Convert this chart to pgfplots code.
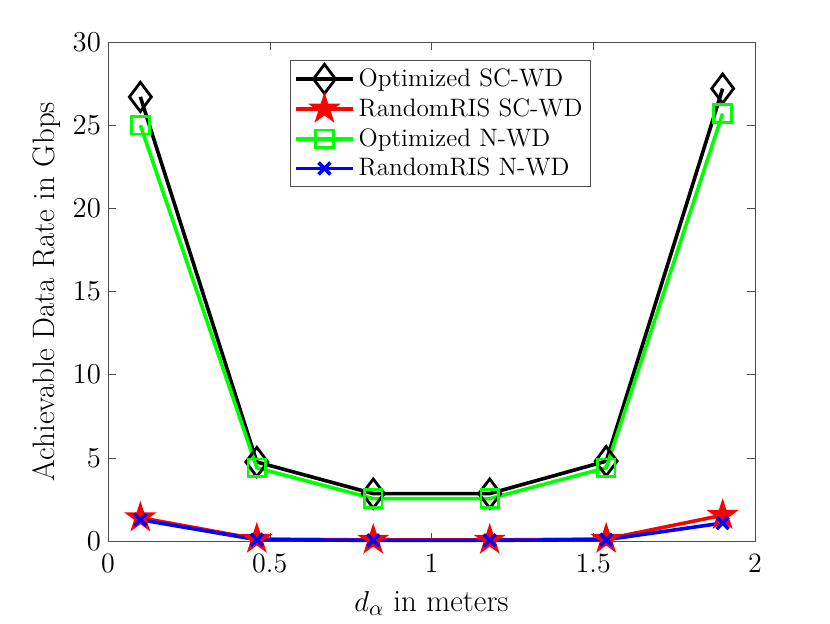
\documentclass[border=0pt]{standalone}
\usepackage{pgfplots}
\pgfplotsset{compat=1.18}
\pgfdeclareplotmark{fstar}{%
  \pgfpathmoveto{\pgfpointpolar{90}{\pgfplotmarksize}}%
  \pgfpathlineto{\pgfpointpolar{126}{0.382\pgfplotmarksize}}%
  \pgfpathlineto{\pgfpointpolar{162}{\pgfplotmarksize}}%
  \pgfpathlineto{\pgfpointpolar{198}{0.382\pgfplotmarksize}}%
  \pgfpathlineto{\pgfpointpolar{234}{\pgfplotmarksize}}%
  \pgfpathlineto{\pgfpointpolar{270}{0.382\pgfplotmarksize}}%
  \pgfpathlineto{\pgfpointpolar{306}{\pgfplotmarksize}}%
  \pgfpathlineto{\pgfpointpolar{342}{0.382\pgfplotmarksize}}%
  \pgfpathlineto{\pgfpointpolar{18}{\pgfplotmarksize}}%
  \pgfpathlineto{\pgfpointpolar{54}{0.382\pgfplotmarksize}}%
  \pgfpathclose
  \pgfusepathqfillstroke
}
\begin{document}
\begin{tikzpicture}
\begin{axis}[
  name=ax,
  scale only axis,
  width=323.5pt, height=249.5pt,
  xmin=0, xmax=2, ymin=0, ymax=30,
  xtick={0,0.5,1,1.5,2},
  ytick={0,5,10,15,20,25,30},
  xticklabels={0,0.5,1,1.5,2},
  tick align=inside,
  axis line style={line width=0.4pt, color=black!70},
  tick style={color=black!70},
  major tick length=4pt,
  ticklabel style={font=\fontsize{14}{16}\selectfont},
  xticklabel style={yshift=-3pt},
  label style={font=\fontsize{15.5}{18}\selectfont},
  xlabel={$d_\alpha$ in meters},
  ylabel={Achievable Data Rate in Gbps},
  xlabel style={yshift=-2pt},
  ylabel style={yshift=-1pt},
  legend cell align=left,
  legend style={at={(0.281,0.964)}, anchor=north west,
    font=\fontsize{12.6}{15}\selectfont, draw=black!70, line width=0.4pt,
    inner sep=2pt, row sep=0.5pt},
  legend image code/.code={%
    \draw[#1, mark repeat=2, mark phase=2] plot coordinates {(0cm,0cm) (0.5cm,0cm) (1cm,0cm)};},
  clip=false,
]
\addplot[black, line width=1.8pt, mark=diamond, mark size=7.3pt, mark options={solid, line width=1.4pt}]
  coordinates {(0.1,26.7) (0.46,4.75) (0.82,2.85) (1.18,2.85) (1.54,4.8) (1.9,27.2)};
\addlegendentry{Optimized SC-WD}
\addplot[red, line width=1.8pt, mark=fstar, mark size=7.2pt, mark options={solid, fill=red, line width=0.8pt}]
  coordinates {(0.1,1.4) (0.46,0.12) (0.82,0.06) (1.18,0.06) (1.54,0.12) (1.9,1.55)};
\addlegendentry{RandomRIS SC-WD}
\addplot[green, line width=1.8pt, mark=square, mark size=4.4pt, mark options={solid, line width=1.4pt}]
  coordinates {(0.1,25.0) (0.46,4.4) (0.82,2.55) (1.18,2.55) (1.54,4.4) (1.9,25.7)};
\addlegendentry{Optimized N-WD}
\addplot[blue, line width=1.8pt, mark=x, mark size=4.2pt, mark options={solid, line width=1.8pt}]
  coordinates {(0.1,1.28) (0.46,0.08) (0.82,0.04) (1.18,0.04) (1.54,0.08) (1.9,1.08)};
\addlegendentry{RandomRIS N-WD}
\end{axis}
\pgfresetboundingbox
\path ([shift={(-54pt,-41pt)}]ax.south west) rectangle ([shift={(37.5pt,21pt)}]ax.north east);
\end{tikzpicture}
\end{document}
